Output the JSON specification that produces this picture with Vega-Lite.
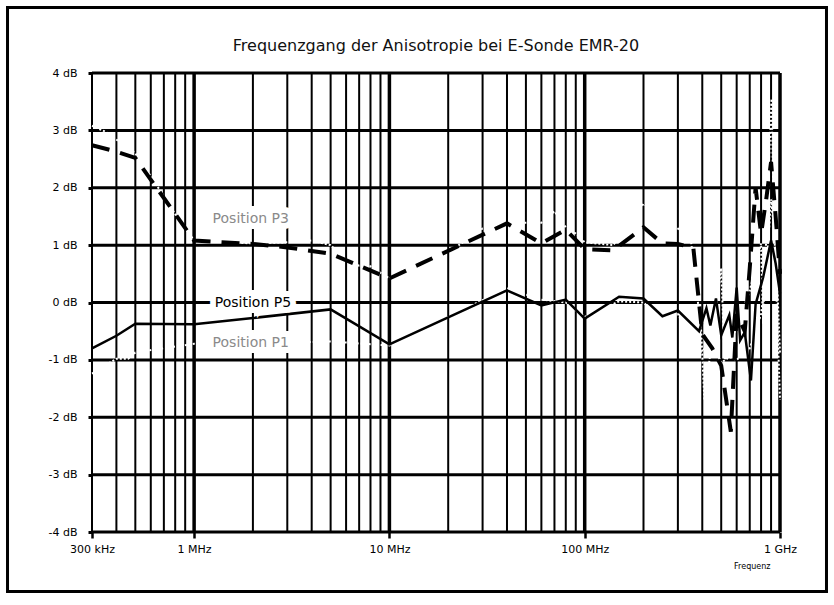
{
  "$schema": "https://vega.github.io/schema/vega-lite/v6.json",
  "width": 688,
  "height": 459,
  "autosize": {"type": "none"},
  "padding": {"left": 92, "top": 73, "right": 54, "bottom": 73},
  "background": "white",
  "title": {
    "text": "Frequenzgang der Anisotropie bei E-Sonde  EMR-20",
    "font": "DejaVu Sans",
    "fontSize": 16,
    "fontWeight": "normal",
    "color": "#111111",
    "anchor": "middle",
    "frame": "group",
    "baseline": "alphabetic",
    "offset": -61
  },
  "config": {
    "view": {"stroke": null},
    "axis": {"grid": false, "domain": false, "tickColor": "black", "labelColor": "black", "labelFont": "DejaVu Sans", "labelFontSize": 11, "titleFont": "DejaVu Sans"}
  },
  "datasets": {
    "gridv": [
      {"f": 300000, "kind": "minor"}, {"f": 400000, "kind": "minor"}, {"f": 500000, "kind": "minor"}, {"f": 600000, "kind": "minor"}, {"f": 700000, "kind": "minor"}, {"f": 800000, "kind": "minor"}, {"f": 900000, "kind": "minor"},
      {"f": 1000000, "kind": "major"},
      {"f": 2000000, "kind": "minor"}, {"f": 3000000, "kind": "minor"}, {"f": 4000000, "kind": "minor"}, {"f": 5000000, "kind": "minor"}, {"f": 6000000, "kind": "minor"}, {"f": 7000000, "kind": "minor"}, {"f": 8000000, "kind": "minor"}, {"f": 9000000, "kind": "minor"},
      {"f": 10000000, "kind": "major"},
      {"f": 20000000, "kind": "minor"}, {"f": 30000000, "kind": "minor"}, {"f": 40000000, "kind": "minor"}, {"f": 50000000, "kind": "minor"}, {"f": 60000000, "kind": "minor"}, {"f": 70000000, "kind": "minor"}, {"f": 80000000, "kind": "minor"}, {"f": 90000000, "kind": "minor"},
      {"f": 100000000, "kind": "major"},
      {"f": 200000000, "kind": "minor"}, {"f": 300000000, "kind": "minor"}, {"f": 400000000, "kind": "minor"}, {"f": 500000000, "kind": "minor"}, {"f": 600000000, "kind": "minor"}, {"f": 700000000, "kind": "minor"}, {"f": 800000000, "kind": "minor"}, {"f": 900000000, "kind": "minor"},
      {"f": 1000000000, "kind": "major"}
    ],
    "gridh": [
      {"db": -4}, {"db": -3}, {"db": -2}, {"db": -1}, {"db": 0}, {"db": 1}, {"db": 2}, {"db": 3}, {"db": 4}
    ],
    "frame": [
      {"f": 110800, "f2": 1730000000, "db": 5.142, "db2": -5.037}
    ],
    "series": [
      {"s": "P5", "f": 300000, "db": -0.80}, {"s": "P5", "f": 400000, "db": -0.58}, {"s": "P5", "f": 500000, "db": -0.37},
      {"s": "P5", "f": 1000000, "db": -0.38}, {"s": "P5", "f": 2000000, "db": -0.27}, {"s": "P5", "f": 5000000, "db": -0.12},
      {"s": "P5", "f": 10000000, "db": -0.73}, {"s": "P5", "f": 40000000, "db": 0.21}, {"s": "P5", "f": 60000000, "db": -0.05},
      {"s": "P5", "f": 80000000, "db": 0.05}, {"s": "P5", "f": 100000000, "db": -0.28}, {"s": "P5", "f": 150000000, "db": 0.10},
      {"s": "P5", "f": 200000000, "db": 0.07}, {"s": "P5", "f": 250000000, "db": -0.24}, {"s": "P5", "f": 300000000, "db": -0.14},
      {"s": "P5", "f": 385000000, "db": -0.50}, {"s": "P5", "f": 420000000, "db": -0.10}, {"s": "P5", "f": 440000000, "db": -0.40},
      {"s": "P5", "f": 470000000, "db": 0.07}, {"s": "P5", "f": 500000000, "db": -0.57}, {"s": "P5", "f": 550000000, "db": -0.22},
      {"s": "P5", "f": 570000000, "db": -0.61}, {"s": "P5", "f": 600000000, "db": 0.26}, {"s": "P5", "f": 625000000, "db": -0.66},
      {"s": "P5", "f": 660000000, "db": -0.52}, {"s": "P5", "f": 710000000, "db": -1.36}, {"s": "P5", "f": 750000000, "db": -0.03},
      {"s": "P5", "f": 820000000, "db": 0.44}, {"s": "P5", "f": 900000000, "db": 1.08}, {"s": "P5", "f": 950000000, "db": 0.68},
      {"s": "P5", "f": 1000000000, "db": 0.16},

      {"s": "P3", "f": 300000, "db": 2.74}, {"s": "P3", "f": 400000, "db": 2.63}, {"s": "P3", "f": 500000, "db": 2.52},
      {"s": "P3", "f": 1000000, "db": 1.08}, {"s": "P3", "f": 2000000, "db": 1.02}, {"s": "P3", "f": 3000000, "db": 0.96},
      {"s": "P3", "f": 5000000, "db": 0.85}, {"s": "P3", "f": 10000000, "db": 0.42}, {"s": "P3", "f": 40000000, "db": 1.38},
      {"s": "P3", "f": 60000000, "db": 1.03}, {"s": "P3", "f": 80000000, "db": 1.27}, {"s": "P3", "f": 100000000, "db": 0.93},
      {"s": "P3", "f": 140000000, "db": 0.91}, {"s": "P3", "f": 200000000, "db": 1.31}, {"s": "P3", "f": 250000000, "db": 1.03},
      {"s": "P3", "f": 300000000, "db": 1.02}, {"s": "P3", "f": 360000000, "db": 0.95}, {"s": "P3", "f": 400000000, "db": -0.55},
      {"s": "P3", "f": 450000000, "db": -0.80}, {"s": "P3", "f": 500000000, "db": -1.10}, {"s": "P3", "f": 560000000, "db": -2.25},
      {"s": "P3", "f": 600000000, "db": -0.20}, {"s": "P3", "f": 660000000, "db": -0.50}, {"s": "P3", "f": 700000000, "db": 0.60},
      {"s": "P3", "f": 750000000, "db": 2.00}, {"s": "P3", "f": 800000000, "db": 1.20}, {"s": "P3", "f": 850000000, "db": 1.80},
      {"s": "P3", "f": 900000000, "db": 2.45}, {"s": "P3", "f": 950000000, "db": 1.50}, {"s": "P3", "f": 1000000000, "db": 0.50},

      {"s": "WA", "f": 300000, "db": 3.08}, {"s": "WA", "f": 350000, "db": 2.98}, {"s": "WA", "f": 400000, "db": 2.84},
      {"s": "WA", "f": 500000, "db": 2.60}, {"s": "WA", "f": 600000, "db": 2.20}, {"s": "WA", "f": 700000, "db": 1.85},
      {"s": "WA", "f": 800000, "db": 1.54}, {"s": "WA", "f": 1000000, "db": 1.08}, {"s": "WA", "f": 2000000, "db": 1.03},
      {"s": "WA", "f": 3000000, "db": 1.05}, {"s": "WA", "f": 4000000, "db": 1.08}, {"s": "WA", "f": 5000000, "db": 1.00},
      {"s": "WA", "f": 6000000, "db": 0.74}, {"s": "WA", "f": 7000000, "db": 0.64}, {"s": "WA", "f": 8000000, "db": 0.63},
      {"s": "WA", "f": 10000000, "db": 0.42}, {"s": "WA", "f": 20000000, "db": 0.87}, {"s": "WA", "f": 30000000, "db": 1.29},
      {"s": "WA", "f": 40000000, "db": 1.38}, {"s": "WA", "f": 50000000, "db": 1.39}, {"s": "WA", "f": 60000000, "db": 1.39},
      {"s": "WA", "f": 70000000, "db": 1.59}, {"s": "WA", "f": 80000000, "db": 1.31}, {"s": "WA", "f": 90000000, "db": 1.20},
      {"s": "WA", "f": 100000000, "db": 1.05}, {"s": "WA", "f": 140000000, "db": 1.00}, {"s": "WA", "f": 200000000, "db": 1.72},
      {"s": "WA", "f": 300000000, "db": 1.29}, {"s": "WA", "f": 350000000, "db": 1.08}, {"s": "WA", "f": 395000000, "db": -0.50},
      {"s": "WA", "f": 410000000, "db": -1.70}, {"s": "WA", "f": 500000000, "db": 0.60}, {"s": "WA", "f": 520000000, "db": -1.00},
      {"s": "WA", "f": 700000000, "db": 0.20}, {"s": "WA", "f": 800000000, "db": 1.03}, {"s": "WA", "f": 820000000, "db": -0.37},
      {"s": "WA", "f": 870000000, "db": 2.10}, {"s": "WA", "f": 905000000, "db": 3.55}, {"s": "WA", "f": 930000000, "db": 1.50},
      {"s": "WA", "f": 1000000000, "db": -1.70},

      {"s": "WB", "f": 300000, "db": -1.24}, {"s": "WB", "f": 400000, "db": -0.98}, {"s": "WB", "f": 460000, "db": -0.98},
      {"s": "WB", "f": 500000, "db": -0.87}, {"s": "WB", "f": 1000000, "db": -0.72}, {"s": "WB", "f": 2000000, "db": -0.72},
      {"s": "WB", "f": 5000000, "db": -0.68}, {"s": "WB", "f": 10000000, "db": -0.75}, {"s": "WB", "f": 40000000, "db": 0.25},
      {"s": "WB", "f": 60000000, "db": 0.05}, {"s": "WB", "f": 80000000, "db": 0.00}, {"s": "WB", "f": 100000000, "db": -0.25},
      {"s": "WB", "f": 150000000, "db": 0.02}, {"s": "WB", "f": 200000000, "db": 0.00}, {"s": "WB", "f": 250000000, "db": -0.30},
      {"s": "WB", "f": 300000000, "db": -0.20}, {"s": "WB", "f": 380000000, "db": -0.90}, {"s": "WB", "f": 450000000, "db": -0.70},
      {"s": "WB", "f": 500000000, "db": -1.05}, {"s": "WB", "f": 550000000, "db": -0.95}, {"s": "WB", "f": 600000000, "db": -1.00},
      {"s": "WB", "f": 700000000, "db": -0.80}, {"s": "WB", "f": 800000000, "db": -0.20}, {"s": "WB", "f": 850000000, "db": 0.50},
      {"s": "WB", "f": 900000000, "db": 1.80}, {"s": "WB", "f": 950000000, "db": 1.00}, {"s": "WB", "f": 1000000000, "db": -0.90}
    ],
    "labels": [
      {"label": "Position P3", "f": 1950000, "db": 1.46},
      {"label": "Position P5", "f": 2000000, "db": -0.01},
      {"label": "Position P1", "f": 1950000, "db": -0.70}
    ]
  },
  "layer": [
    {
      "data": {"name": "gridv"},
      "transform": [{"filter": "datum.kind === 'minor'"}],
      "mark": {"type": "rule", "color": "black", "strokeWidth": 2},
      "encoding": {
        "x": {
          "field": "f", "type": "quantitative",
          "scale": {"type": "log", "domain": [300000, 1000000000], "nice": false},
          "axis": {
            "values": [300000, 1000000, 10000000, 100000000, 1000000000],
            "labelExpr": "datum.value < 500000 ? '300 kHz' : datum.value < 5000000 ? '1 MHz' : datum.value < 50000000 ? '10 MHz' : datum.value < 500000000 ? '100 MHz' : '1 GHz'",
            "tickSize": 6, "tickWidth": 2.5, "labelPadding": 5, "labelAngle": 0,
            "labelFlush": false, "labelOverlap": false,
            "title": "Frequenz", "titleFontSize": 8, "titleFontWeight": "normal",
            "titleX": 678, "titleY": 36, "titleAlign": "right", "titleBaseline": "alphabetic"
          }
        }
      }
    },
    {
      "data": {"name": "gridv"},
      "transform": [{"filter": "datum.kind === 'major'"}],
      "mark": {"type": "rule", "color": "black", "strokeWidth": 3.5},
      "encoding": {"x": {"field": "f", "type": "quantitative"}}
    },
    {
      "data": {"name": "gridh"},
      "mark": {"type": "rule", "color": "black", "strokeWidth": 3},
      "encoding": {
        "y": {
          "field": "db", "type": "quantitative",
          "scale": {"domain": [-4, 4], "nice": false, "zero": false},
          "axis": {
            "values": [-4, -3, -2, -1, 0, 1, 2, 3, 4],
            "labelExpr": "datum.value + ' dB'",
            "tickSize": 4, "tickWidth": 3, "labelPadding": 11,
            "labelFlush": false,
            "title": null
          }
        }
      }
    },
    {
      "data": {"name": "frame"},
      "mark": {"type": "rect", "filled": false, "color": "black", "strokeWidth": 3},
      "encoding": {
        "x": {"field": "f", "type": "quantitative"},
        "x2": {"field": "f2"},
        "y": {"field": "db", "type": "quantitative"},
        "y2": {"field": "db2"}
      }
    },
    {
      "data": {"name": "series"},
      "transform": [{"filter": "datum.s === 'WA' || datum.s === 'WB'"}],
      "mark": {"type": "line", "color": "white", "strokeWidth": 2, "strokeDash": [2, 2]},
      "encoding": {
        "x": {"field": "f", "type": "quantitative"},
        "y": {"field": "db", "type": "quantitative"},
        "detail": {"field": "s"}
      }
    },
    {
      "data": {"name": "series"},
      "transform": [{"filter": "datum.s === 'P3'"}],
      "mark": {"type": "line", "color": "black", "strokeWidth": 4, "strokeDash": [18, 11]},
      "encoding": {
        "x": {"field": "f", "type": "quantitative"},
        "y": {"field": "db", "type": "quantitative"}
      }
    },
    {
      "data": {"name": "series"},
      "transform": [{"filter": "datum.s === 'P5'"}],
      "mark": {"type": "line", "color": "black", "strokeWidth": 2.5},
      "encoding": {
        "x": {"field": "f", "type": "quantitative"},
        "y": {"field": "db", "type": "quantitative"}
      }
    },
    {
      "data": {"name": "labels"},
      "mark": {"type": "text", "font": "DejaVu Sans", "fontSize": 14, "fill": "white", "stroke": "white", "strokeWidth": 12, "strokeJoin": "miter"},
      "encoding": {
        "x": {"field": "f", "type": "quantitative"},
        "y": {"field": "db", "type": "quantitative"},
        "text": {"field": "label"}
      }
    },
    {
      "data": {"name": "labels"},
      "mark": {"type": "text", "font": "DejaVu Sans", "fontSize": 14},
      "encoding": {
        "x": {"field": "f", "type": "quantitative"},
        "y": {"field": "db", "type": "quantitative"},
        "text": {"field": "label"},
        "color": {"field": "label", "type": "nominal", "scale": {"domain": ["Position P3", "Position P5", "Position P1"], "range": ["#8a8a8a", "#000000", "#8a8a8a"]}, "legend": null}
      }
    }
  ]
}
